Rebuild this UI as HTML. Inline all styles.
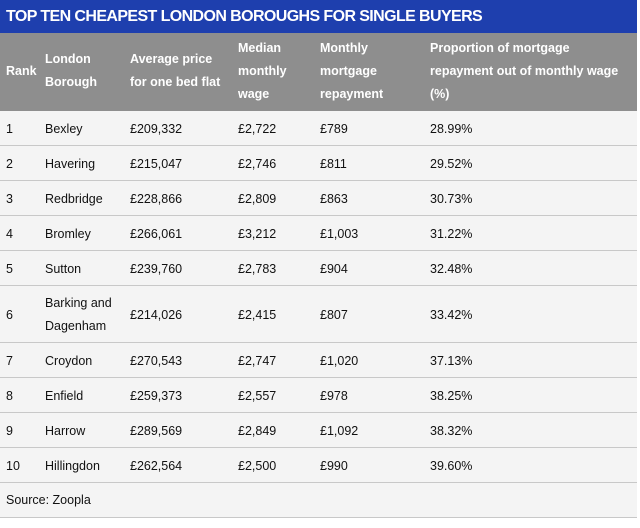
<!DOCTYPE html>
<html><head><meta charset="utf-8"><style>
body{margin:0;background:#fff;width:640px;height:528px;overflow:hidden;font-family:"Liberation Sans",sans-serif;}
#wrap{position:absolute;left:0;top:0;width:637px;height:518px;background:#f4f4f4;}
#title{position:absolute;left:0;top:0;width:637px;height:33px;background:#1e3fae;color:#fff;font-weight:bold;font-size:16px;line-height:33px;padding-left:6px;box-sizing:border-box;letter-spacing:-0.6px}
#head{position:absolute;left:0;top:33px;width:637px;height:78px;background:#8e8e8e;color:#fff;font-weight:bold;font-size:12.5px}
.h{position:absolute;line-height:23px}
.row{position:absolute;left:0;width:637px;border-bottom:1px solid #c8c8c8;font-size:12.5px;color:#111}
.c{position:absolute;line-height:23px}
</style></head><body>
<div id="wrap">
<div id="title">TOP TEN CHEAPEST LONDON BOROUGHS FOR SINGLE BUYERS</div>
<div id="head">
<div class="h" style="left:6px;top:27px">Rank</div>
<div class="h" style="left:45px;top:15px">London<br>Borough</div>
<div class="h" style="left:130px;top:15px">Average price<br>for one bed flat</div>
<div class="h" style="left:238px;top:4px">Median<br>monthly<br>wage</div>
<div class="h" style="left:320px;top:4px">Monthly<br>mortgage<br>repayment</div>
<div class="h" style="left:430px;top:4px">Proportion of mortgage<br>repayment out of monthly wage<br>(%)</div>
</div>
<div id="rows"></div>
</div>
<script>
const ranks=["1","2","3","4","5","6","7","8","9","10"];
const boroughs=["Bexley","Havering","Redbridge","Bromley","Sutton","Barking and<br>Dagenham","Croydon","Enfield","Harrow","Hillingdon"];
const prices=["£209,332","£215,047","£228,866","£266,061","£239,760","£214,026","£270,543","£259,373","£289,569","£262,564"];
const wages=["£2,722","£2,746","£2,809","£3,212","£2,783","£2,415","£2,747","£2,557","£2,849","£2,500"];
const mortgages=["£789","£811","£863","£1,003","£904","£807","£1,020","£978","£1,092","£990"];
const props=["28.99%","29.52%","30.73%","31.22%","32.48%","33.42%","37.13%","38.25%","38.32%","39.60%"];
const xs=[6,45,130,238,320,430];
const box=document.getElementById('rows');
let y=111;
for(let i=0;i<ranks.length;i++){
  const h=i===5?57:35;
  const r=document.createElement('div');
  r.className='row';
  
  
  r.style.top=y+'px';r.style.height=(h-1)+'px';
  const vals=[ranks[i],boroughs[i],prices[i],wages[i],mortgages[i],props[i]];
  vals.forEach((v,j)=>{
    const c=document.createElement('div');
    c.className='c';
    
    
    c.style.left=xs[j]+'px';
    const lines=v.includes('<br>')?2:1;
    c.style.top=((h-1-23*lines)/2+1)+'px';
    c.innerHTML=v;
    r.appendChild(c);
  });
  box.appendChild(r);
  y+=h;
}
const s=document.createElement('div');
s.className='row';


s.style.top=y+'px';s.style.height='34px';
s.innerHTML='<div class="c" style="left:6px;top:6px">Source: Zoopla</div>';
box.appendChild(s);
</script>
</body></html>
